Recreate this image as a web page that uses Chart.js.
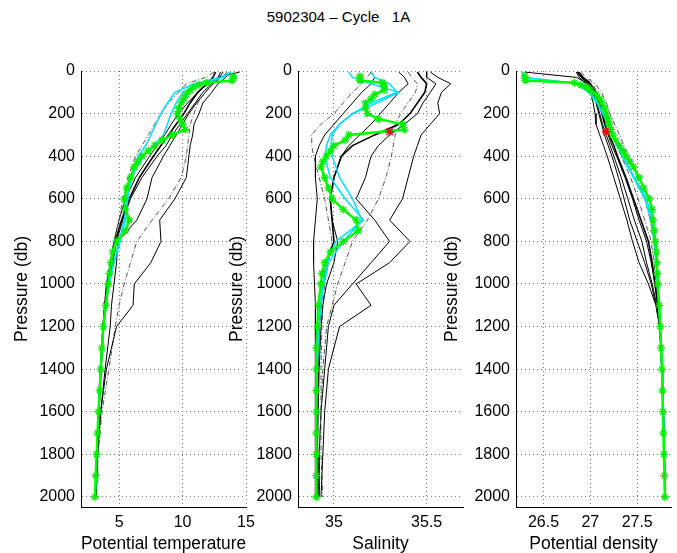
<!DOCTYPE html>
<html>
<head>
<meta charset="utf-8">
<script src="https://cdn.jsdelivr.net/npm/chart.js@4.4.1/dist/chart.umd.min.js"></script>
<style>
  html, body { margin: 0; padding: 0; background: #fff; }
  #wrap { position: relative; width: 677px; height: 553px; overflow: hidden; }
  #wrap canvas { position: absolute; left: 0; top: 0; }
  #title { position: absolute; top: 8px; left: 0; width: 677px; text-align: center;
           font: 15px "Liberation Sans", Arial, sans-serif; white-space: pre; color: #000; }
</style>
</head>
<body>
<div id="wrap">
  <div id="title">5902304 – Cycle   1A</div>
  <canvas id="theta" width="677" height="553"></canvas>
  <canvas id="sal" width="677" height="553"></canvas>
  <canvas id="sigma" width="677" height="553"></canvas>
</div>
<script>
// pressure levels (db) used by the history profiles
const pressure = [5, 30, 60, 100, 150, 200, 250, 300, 350, 400, 500, 600, 700, 800, 900, 1000, 1100, 1200, 1400, 1600, 1800, 2000];

// older cycles, black / grey
const theta1 = [12.6, 12.4, 11.9, 11.2, 10.6, 10.1, 9.5, 8.9, 8.3, 7.7, 6.6, 5.8, 5.2, 4.7, 4.4, 4.1, 3.9, 3.75, 3.55, 3.4, 3.25, 3.15];
const theta2 = [13.0, 12.8, 12.3, 11.6, 11.0, 10.4, 9.8, 9.2, 8.7, 8.0, 6.8, 5.9, 5.3, 4.8, 4.5, 4.2, 4.0, 3.8, 3.6, 3.42, 3.28, 3.18];
const theta3 = [13.8, 13.4, 12.8, 12.3, 11.6, 11.3, 10.9, 10.8, 10.6, 10.5, 10.3, 9.4, 8.2, 8.3, 7.5, 6.2, 6.1, 4.8, 4.0, 3.55, 3.3, 3.2];
const theta4 = [13.5, 13.1, 12.4, 11.8, 11.2, 10.9, 10.6, 10.5, 10.4, 10.3, 9.9, 8.9, 7.6, 6.4, 5.9, 5.4, 5.0, 4.7, 4.2, 3.65, 3.35, 3.2];
const theta5 = [13.2, 12.9, 12.4, 11.8, 11.1, 10.5, 10.0, 9.5, 9.0, 8.5, 7.6, 7.2, 6.4, 4.9, 4.8, 4.6, 4.4, 4.3, 3.9, 3.55, 3.3, 3.18];
const theta6 = [12.5, 11.8, 10.3, 9.7, 8.9, 8.3, 7.8, 7.3, 6.8, 6.3, 5.7, 5.3, 5.0, 4.6, 4.3, 4.05, 3.85, 3.7, 3.5, 3.35, 3.22, 3.12];
const theta7 = [14.5, 12.8, 12.0, 11.2, 10.4, 9.7, 9.1, 8.6, 8.0, 7.4, 6.3, 5.5, 5.0, 4.6, 4.3, 4.0, 3.85, 3.72, 3.52, 3.38, 3.24, 3.13];

const sal1 = [35.45, 35.47, 35.5, 35.49, 35.45, 35.41, 35.35, 35.22, 35.1, 35.04, 35.0, 34.98, 34.99, 35.0, 34.96, 34.94, 34.93, 34.92, 34.915, 34.91, 34.91, 34.91];
const sal2 = [35.35, 35.38, 35.4, 35.35, 35.3, 35.25, 35.2, 35.14, 35.08, 35.04, 35.0, 34.98, 34.99, 35.02, 35.0, 34.96, 34.94, 34.93, 34.92, 34.915, 34.91, 34.91];
const sal3 = [35.52, 35.56, 35.63, 35.58, 35.56, 35.57, 35.52, 35.47, 35.45, 35.43, 35.4, 35.37, 35.3, 35.41, 35.3, 35.12, 35.2, 35.03, 34.97, 34.95, 34.94, 34.93];
const sal4 = [35.4, 35.42, 35.45, 35.44, 35.4, 35.36, 35.33, 35.33, 35.32, 35.31, 35.28, 35.24, 35.18, 35.1, 35.06, 35.02, 34.99, 34.96, 34.94, 34.93, 34.92, 34.92];
const sal5 = [35.5, 35.5, 35.55, 35.52, 35.48, 35.45, 35.38, 35.3, 35.24, 35.2, 35.17, 35.12, 35.22, 35.3, 35.2, 35.1, 35.0, 34.97, 34.95, 34.93, 34.92, 34.92];
const sal6 = [35.2, 35.18, 35.15, 35.1, 35.05, 35.0, 34.93, 34.88, 34.88, 34.89, 34.92, 34.95, 34.97, 34.99, 34.97, 34.95, 34.94, 34.935, 34.93, 34.93, 34.93, 34.94];
const sal7 = [35.2, 35.22, 35.2, 35.15, 35.1, 35.05, 35.0, 34.95, 34.92, 34.9, 34.9, 34.91, 34.9, 34.89, 34.89, 34.895, 34.9, 34.9, 34.9, 34.9, 34.9, 34.9];

const sigma1 = [26.87, 26.92, 27.0, 27.06, 27.1, 27.13, 27.16, 27.2, 27.25, 27.29, 27.38, 27.46, 27.54, 27.62, 27.66, 27.69, 27.72, 27.745, 27.765, 27.78, 27.79, 27.8];
const sigma2 = [26.86, 26.9, 26.98, 27.03, 27.07, 27.1, 27.13, 27.17, 27.21, 27.25, 27.33, 27.4, 27.47, 27.55, 27.6, 27.66, 27.71, 27.74, 27.765, 27.78, 27.79, 27.8];
const sigma3 = [26.85, 26.88, 26.95, 27.0, 27.03, 27.05, 27.06, 27.1, 27.14, 27.18, 27.25, 27.32, 27.39, 27.45, 27.52, 27.62, 27.7, 27.74, 27.76, 27.775, 27.785, 27.795];
const sigma4 = [26.9, 26.95, 27.05, 27.12, 27.17, 27.21, 27.26, 27.31, 27.36, 27.41, 27.5, 27.58, 27.64, 27.68, 27.7, 27.72, 27.735, 27.75, 27.77, 27.78, 27.79, 27.8];
const sigma5 = [26.86, 26.9, 26.97, 27.02, 27.06, 27.09, 27.12, 27.15, 27.19, 27.23, 27.3, 27.36, 27.42, 27.5, 27.58, 27.65, 27.7, 27.74, 27.765, 27.78, 27.79, 27.8];
const sigma6 = [26.88, 26.93, 27.02, 27.08, 27.12, 27.15, 27.19, 27.23, 27.28, 27.33, 27.43, 27.51, 27.58, 27.65, 27.68, 27.7, 27.725, 27.745, 27.765, 27.78, 27.79, 27.8];
const sigma7 = [26.3, 26.85, 26.98, 27.04, 27.09, 27.12, 27.15, 27.19, 27.23, 27.28, 27.37, 27.45, 27.52, 27.6, 27.65, 27.69, 27.72, 27.74, 27.765, 27.78, 27.79, 27.8];

// previous cycles, cyan
const thetaCyan1 = [13.8, 13.0, 10.9, 9.4, 8.8, 8.3, 7.9, 7.5, 7.1, 6.5, 5.9, 5.7, 5.4, 5.0, 4.6, 4.2, 3.95, 3.78, 3.55, 3.38, 3.22, 3.12];
const thetaCyan2 = [13.8, 13.2, 11.4, 10.0, 9.5, 9.1, 8.8, 8.5, 7.7, 6.9, 6.0, 5.6, 5.5, 5.1, 4.6, 4.2, 3.95, 3.78, 3.55, 3.38, 3.22, 3.12];
const salCyan1 = [35.08, 35.1, 35.2, 35.35, 35.23, 35.1, 35.03, 34.98, 34.96, 34.95, 34.98, 35.06, 35.16, 35.01, 34.96, 34.94, 34.925, 34.915, 34.91, 34.905, 34.905, 34.905];
const salCyan2 = [35.2, 35.22, 35.3, 35.34, 35.2, 35.1, 35.03, 34.99, 34.985, 34.99, 35.03, 35.1, 35.15, 35.05, 34.97, 34.945, 34.93, 34.92, 34.91, 34.905, 34.905, 34.905];
const sigmaCyan1 = [26.28, 26.3, 26.88, 26.99, 27.08, 27.14, 27.2, 27.25, 27.3, 27.35, 27.47, 27.6, 27.66, 27.69, 27.71, 27.72, 27.735, 27.745, 27.765, 27.78, 27.79, 27.8];
const sigmaCyan2 = [26.27, 26.29, 26.85, 26.98, 27.07, 27.13, 27.19, 27.24, 27.29, 27.34, 27.46, 27.58, 27.65, 27.68, 27.7, 27.715, 27.73, 27.745, 27.765, 27.78, 27.79, 27.8];

// current cycle (green stars)
const presCycle = [25, 35, 45, 55, 65, 75, 90, 110, 130, 150, 175, 200, 225, 250, 275, 300, 325, 350, 375, 400, 425, 450, 500, 550, 600, 650, 700, 750, 800, 850, 900, 950, 1000, 1100, 1200, 1300, 1400, 1500, 1600, 1700, 1800, 1900, 2000];
const thetaCycle = [14.0, 14.0, 13.9, 11.9, 11.3, 10.9, 10.6, 10.3, 10.1, 9.9, 9.7, 9.6, 9.8, 10.0, 10.2, 9.2, 8.4, 7.8, 7.3, 6.8, 6.5, 6.2, 5.9, 5.6, 5.4, 5.5, 5.8, 5.5, 4.8, 4.5, 4.35, 4.25, 4.15, 3.95, 3.76, 3.65, 3.55, 3.47, 3.38, 3.3, 3.23, 3.16, 3.1];
const salCycle = [35.14, 35.14, 35.14, 35.26, 35.27, 35.27, 35.27, 35.22, 35.2, 35.17, 35.17, 35.18, 35.24, 35.37, 35.38, 35.08, 35.06, 35.0, 34.98, 34.96, 34.94, 34.93, 34.95, 34.97, 34.99, 35.05, 35.12, 35.13, 35.05, 34.98, 34.95, 34.935, 34.93, 34.915, 34.91, 34.905, 34.905, 34.905, 34.905, 34.905, 34.905, 34.905, 34.905];
const sigmaCycle = [26.3, 26.3, 26.31, 26.83, 26.9, 26.96, 27.0, 27.06, 27.1, 27.12, 27.15, 27.17, 27.19, 27.2, 27.22, 27.24, 27.27, 27.31, 27.35, 27.38, 27.42, 27.46, 27.52, 27.57, 27.63, 27.66, 27.67, 27.68, 27.695, 27.705, 27.71, 27.715, 27.72, 27.735, 27.745, 27.755, 27.765, 27.77, 27.775, 27.78, 27.785, 27.79, 27.795];

// flagged point (red star): salinity, so only in salinity and density
const presBad = [285];
const salBad = [35.30];
const sigmaBad = [27.17];

// tick labels
const pressureTicks = [0, 200, 400, 600, 800, 1000, 1200, 1400, 1600, 1800, 2000];
const thetaTicks = [5, 10, 15];
const salTicks = [35, 35.5];
const sigmaTicks = [26.5, 27, 27.5];

const TICK_FONT = { family: "'Liberation Sans', Arial, sans-serif", size: 16 };
const LABEL_FONT = { family: "'Liberation Sans', Arial, sans-serif", size: 17.5, lineHeight: 1 };

function pts(xs, ps) {
  return xs.map((v, i) => ({ x: v, y: ps[i] }));
}

function makePanel(id, p) {
  const datasets = [];
  // first dataset is drawn on top
  if (p.bad) {
    datasets.push({
      data: pts(p.bad, presBad), showLine: false,
      pointStyle: "star", pointRadius: 4.5, pointBorderColor: "#ff0000", pointBorderWidth: 1.4,
    });
  }
  datasets.push({
    data: pts(p.cycle, presCycle), showLine: true,
    borderColor: "#00ff00", borderWidth: 2.5,
    pointStyle: "star", pointRadius: 4, pointBorderColor: "#00ee00",
    pointBorderWidth: 1.3, pointBackgroundColor: "#00ff00",
  });
  p.cyan.forEach((c) => {
    datasets.push({ data: pts(c, pressure), showLine: true, borderColor: "#00e0ff", borderWidth: 1.5, pointRadius: 0 });
  });
  const styles = [
    { c: "#000", w: 1.6, d: [] },
    { c: "#000", w: 1, d: [] },
    { c: "#000", w: 1, d: [] },
    { c: "#555", w: 1, d: [5, 2, 1, 2] },
    { c: "#000", w: 1, d: [] },
    { c: "#555", w: 1, d: [5, 2, 1, 2] },
    { c: "#000", w: 1, d: [] },
  ];
  p.hist.forEach((h, i) => {
    const s = styles[i];
    datasets.push({ data: pts(h, pressure), showLine: true, borderColor: s.c, borderWidth: s.w, borderDash: s.d, pointRadius: 0 });
  });

  return new Chart(document.getElementById(id), {
    type: "scatter",
    data: { datasets },
    options: {
      responsive: false,
      animation: false,
      events: [],
      layout: { padding: { left: p.left - p.yw, right: 677 - p.right, top: 71, bottom: 0 } },
      plugins: { legend: { display: false }, tooltip: { enabled: false } },
      scales: {
        x: {
          type: "linear", min: p.min, max: p.max,
          afterFit: (s) => { s.height = 46; },
          afterBuildTicks: (s) => { s.ticks = p.ticks.map((v) => ({ value: v })); },
          grid: { color: "#777", drawTicks: false },
          border: { display: true, color: "#000", width: 1, dash: [1, 3] },
          ticks: { color: "#000", font: TICK_FONT, padding: 5.5, autoSkip: false, maxRotation: 0, callback: (v) => String(v) },
          title: { display: true, text: p.label, color: "#000", font: LABEL_FONT, padding: 0 },
        },
        y: {
          type: "linear", reverse: true, min: 0, max: 2047,
          afterFit: (s) => { s.width = p.yw; },
          afterBuildTicks: (s) => { s.ticks = pressureTicks.map((v) => ({ value: v })); },
          grid: { color: "#777", drawTicks: false },
          border: { display: true, color: "#000", width: 1, dash: [1, 3] },
          ticks: { color: "#000", font: TICK_FONT, padding: 6, autoSkip: false, callback: (v) => String(v) },
          title: { display: true, text: "Pressure (db)", color: "#000", font: LABEL_FONT, padding: 0 },
        },
      },
    },
  });
}

makePanel("theta", {
  left: 81, right: 246, yw: 67.5, min: 2, max: 15, ticks: thetaTicks, label: "Potential temperature",
  cycle: thetaCycle, bad: null, cyan: [thetaCyan1, thetaCyan2],
  hist: [theta1, theta2, theta3, theta4, theta5, theta6, theta7],
});
makePanel("sal", {
  left: 298, right: 463, yw: 69.5, min: 34.806, max: 35.696, ticks: salTicks, label: "Salinity",
  cycle: salCycle, bad: salBad, cyan: [salCyan1, salCyan2],
  hist: [sal1, sal2, sal3, sal4, sal5, sal6, sal7],
});
makePanel("sigma", {
  left: 516, right: 677, yw: 72.5, min: 26.206, max: 27.862, ticks: sigmaTicks, label: "Potential density",
  cycle: sigmaCycle, bad: sigmaBad, cyan: [sigmaCyan1, sigmaCyan2],
  hist: [sigma1, sigma2, sigma3, sigma4, sigma5, sigma6, sigma7],
});
</script>
</body>
</html>
